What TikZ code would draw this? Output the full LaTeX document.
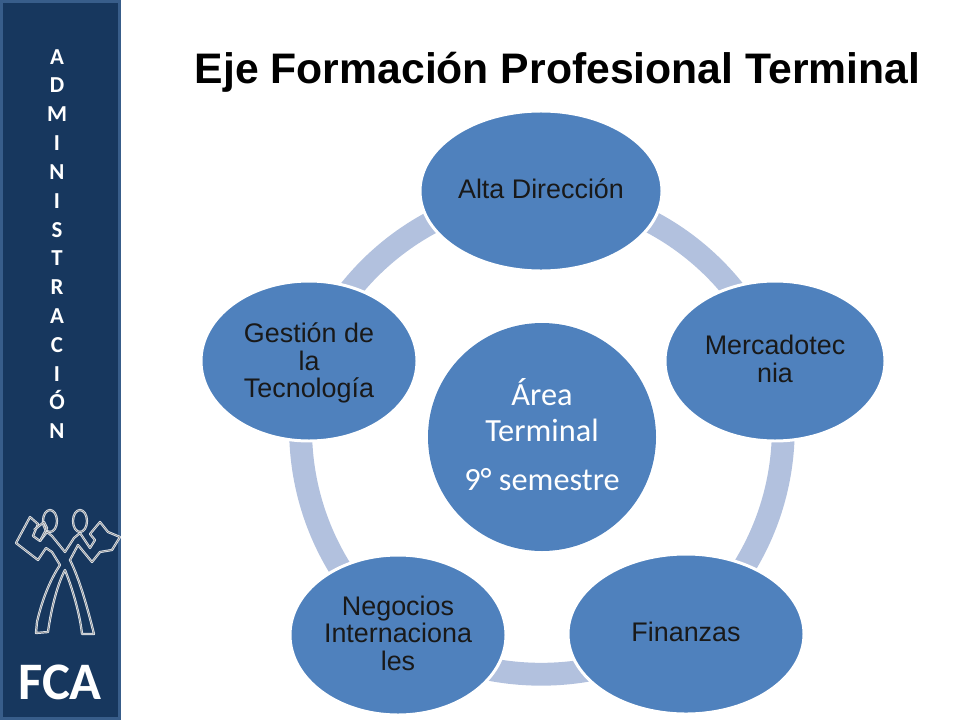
\documentclass[tikz,border=0pt]{standalone}
\usepackage{fontspec}
\setmainfont{Liberation Sans}
\newfontfamily\carlito{Carlito}
\usetikzlibrary{shapes.geometric,backgrounds}
\definecolor{navy}{HTML}{17375E}
\definecolor{navyline}{HTML}{385D8A}
\definecolor{petal}{HTML}{4F81BD}
\definecolor{ringblue}{HTML}{B2C1DE}
\tikzset{
  petal/.style={ellipse,fill=petal,draw=white,line width=1.7pt,inner sep=0pt,minimum height=160*0.02cm,align=center,text depth=2.4pt,font=\fontsize{15.3}{15.6}\selectfont,text=black!90},
  ringarc/.style={draw=ringblue,line width=13pt,looseness=0.94},
  logoline/.style={draw=white!85!navy,line width=.55pt,double=black!60,double distance=.2pt,line join=round},
}
\begin{document}
\begin{tikzpicture}[x=0.02cm,y=-0.02cm]
\useasboundingbox (0,0) rectangle (960,720);
\node (panel) at (60.5,360) [rectangle,fill=navy,draw=navyline,line width=1.7pt,minimum width=118*0.02cm,minimum height=717*0.02cm,inner sep=0pt] {};
\node (word) at (57,244) [align=center,text=white,font=\carlito\bfseries\fontsize{13}{16.4}\selectfont] {A\\D\\M\\I\\N\\I\\S\\T\\R\\A\\C\\I\\Ó\\N};
\node (fca) at (60,682) [text=white,font=\carlito\bfseries\fontsize{30}{30}\selectfont] {FCA};
\node (title) at (557.5,68) [font=\bfseries\fontsize{24.3}{28}\selectfont,text depth=0pt] {Eje Formación Profesional Terminal};

\node (alta) at (541,191) [petal,minimum width=242*0.02cm] {Alta Dirección};
\node (merca) at (775,361) [petal,minimum width=220*0.02cm] {Mercadotec\\nia};
\node (finanzas) at (686,634) [petal,minimum width=236*0.02cm] {Finanzas};
\node (negocios) at (398,635) [petal,minimum width=216*0.02cm] {Negocios\\Internaciona\\les};
\node (gestion) at (309,361) [petal,minimum width=216*0.02cm,text depth=1pt] {Gestión de\\la\\Tecnología};
\node (area) at (542,437) [circle,fill=petal,minimum size=228*0.02cm,inner sep=0pt,align=center,text=white,text depth=3pt,font=\carlito\fontsize{18.4}{20.4}\selectfont] {Área\\Terminal\\[7.5pt]9° semestre};

\begin{pgfonlayer}{background}
\path (alta.center) edge [ringarc,bend left=32] (merca.center)
      (merca.center) edge [ringarc,bend left=32] (finanzas.center)
      (finanzas.center) edge [ringarc,bend left=30] (negocios.center)
      (negocios.center) edge [ringarc,bend left=32] (gestion.center)
      (gestion.center) edge [ringarc,bend left=32] (alta.center);
\end{pgfonlayer}

% logo
\coordinate (headl) at (50,521);
\coordinate (headr) at (80,521);
\draw[logoline] (headl) ellipse (7 and 11);
\draw[logoline] (headr) ellipse (7 and 11);
\draw[logoline] (36,633) -- (37,622) .. controls (42,600) and (50,580) .. (60,565) -- (52,552) -- (46,548) -- (38,560) -- (16,543) -- (30,517) -- (38,524) -- (33,536) -- (40,541) -- (47,532) -- (52,536) -- (65,552) -- (74,538) -- (80,533) -- (90,548) -- (95,540) -- (90,534) -- (100,522) -- (108,532) -- (120,537) -- (112,550) -- (100,552) -- (92,562) -- (78,545) -- (70,560) .. controls (80,580) and (88,610) .. (94,634) -- (82,634) .. controls (80,615) and (73,590) .. (65,570) .. controls (57,585) and (51,610) .. (48,632) -- cycle;
\draw[logoline] (34,530) -- (44,522) -- (47,528) -- (40,541);
\end{tikzpicture}
\end{document}
